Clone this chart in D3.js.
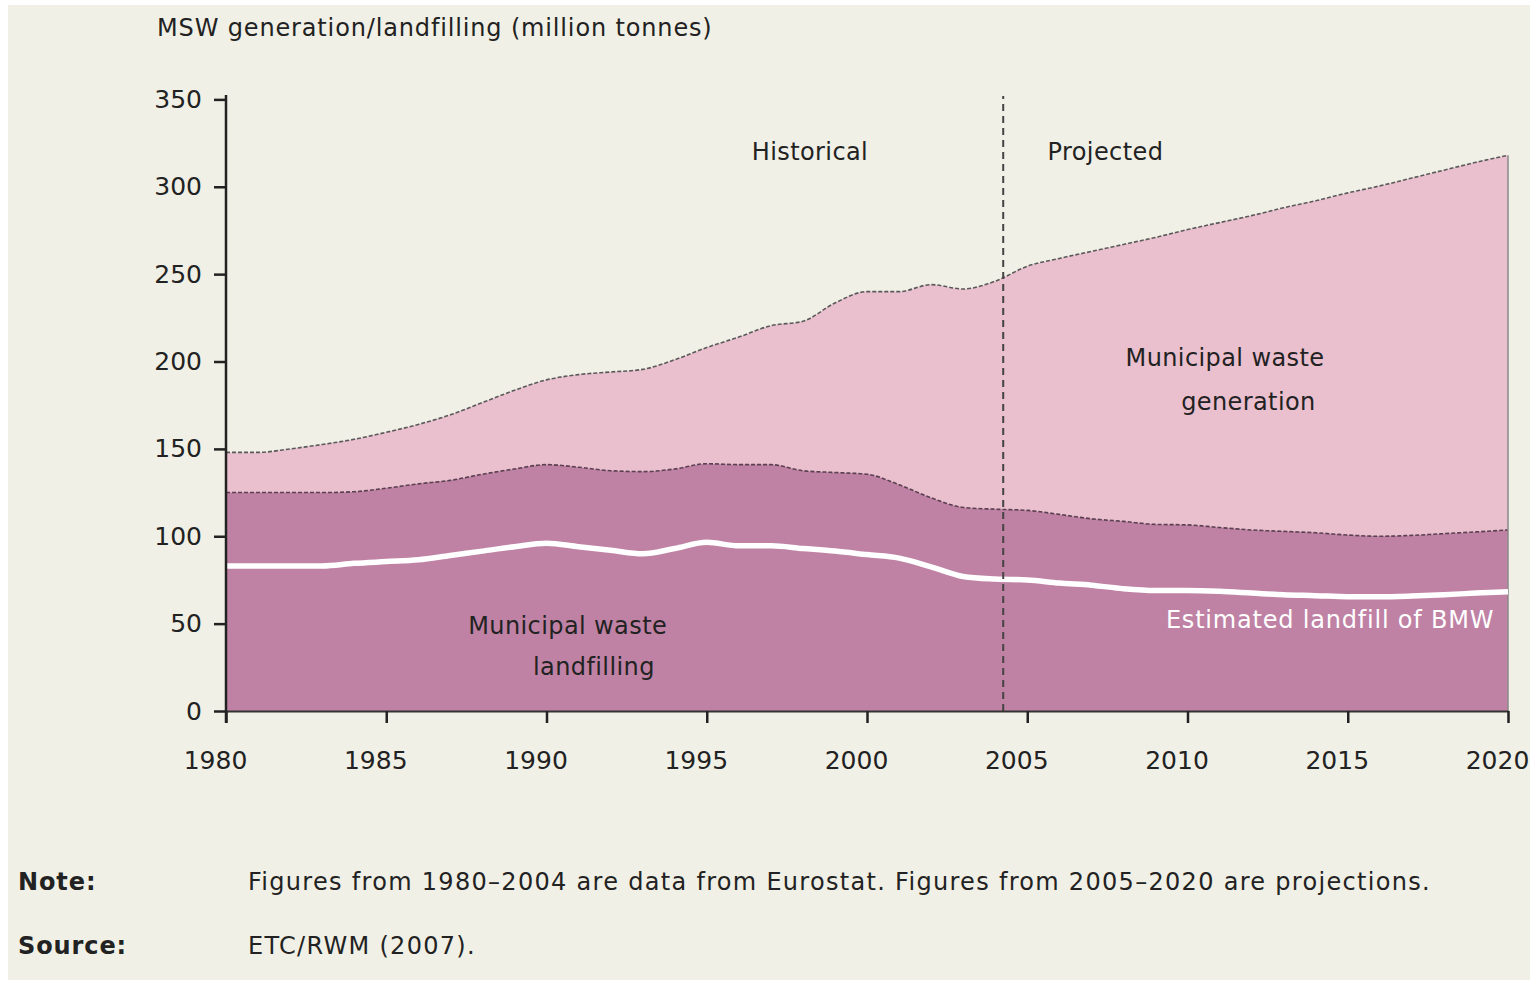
<!DOCTYPE html>
<html>
<head>
<meta charset="utf-8">
<script src="https://cdn.jsdelivr.net/npm/d3@7"></script>
<style>
  html, body { margin: 0; padding: 0; background: #ffffff; }
  svg { display: block; }
  text { font-family: "DejaVu Sans", Verdana, sans-serif; }
</style>
</head>
<body>
<svg id="chart" width="1535" height="983"></svg>
<script>
// ---- Data (million tonnes) ----
const years = d3.range(1980, 2021);
const generation = [148, 148, 150, 152.5, 155.5, 159.5, 164, 169.5, 176.5, 183.5,
  189.5, 192.5, 194, 195.5, 201, 208, 214, 220.5, 223, 233.5,
  240, 240, 244, 241.5, 246, 254.5, 259, 263, 267, 271,
  275.5, 279.5, 283.5, 288, 292, 296.5, 300.5, 305, 309.5, 314, 318];
const landfilling = [125, 125, 125, 125, 125.5, 127.5, 130, 132, 135.5, 138.5,
  141, 139.5, 137.5, 137, 138.5, 141.5, 141, 141, 137.5, 136.5,
  135.5, 129.5, 122, 116.5, 115.5, 114.8, 112.5, 110, 108.5, 106.8,
  106.5, 105, 103.6, 102.8, 102, 100.7, 100, 100.5, 101.5, 102.5, 103.6];
const bmwLandfill = [83, 83, 83, 83, 84.5, 85.5, 86.5, 89, 91.5, 94,
  96, 94, 92, 90, 93, 96.5, 94.5, 94.5, 93, 91.5,
  89.5, 87.5, 82.5, 77, 75.5, 75, 73.2, 72, 70, 69,
  69, 68.5, 67.5, 66.5, 66, 65.4, 65.4, 65.8, 66.5, 67.5, 68.3];
const xTicks = [1980, 1985, 1990, 1995, 2000, 2005, 2010, 2015, 2020];
const yTicks = [0, 50, 100, 150, 200, 250, 300, 350];
const dividerYear = 2004.25;

const titleText = "MSW generation/landfilling (million tonnes)";
const noteLabel = "Note:";
const noteText = "Figures from 1980\u20132004 are data from Eurostat. Figures from 2005\u20132020 are projections.";
const sourceLabel = "Source:";
const sourceText = "ETC/RWM (2007).";

// ---- Styles ----
const BG = "#f0f0e6";
const LIGHT = "#eabfce";
const DARK = "#bf82a4";
const INK = "#222222";

const svg = d3.select("#chart");
svg.append("rect").attr("x", 8).attr("y", 5).attr("width", 1522).attr("height", 975).attr("fill", BG);

const x = d3.scaleLinear().domain([1980, 2020]).range([226, 1508]);
const y = d3.scaleLinear().domain([0, 350]).range([711, 99.4]);

const rows = years.map((yr, i) => ({ yr, gen: generation[i], lf: landfilling[i], bmw: bmwLandfill[i] }));
const curve = d3.curveMonotoneX;

// Areas
svg.append("path").datum(rows)
  .attr("d", d3.area().curve(curve).x(d => x(d.yr)).y0(y(0)).y1(d => y(d.gen)))
  .attr("fill", LIGHT);
svg.append("path").datum(rows)
  .attr("d", d3.area().curve(curve).x(d => x(d.yr)).y0(y(0)).y1(d => y(d.lf)))
  .attr("fill", DARK);

// Boundary lines (thin dotted)
svg.append("path").datum(rows)
  .attr("d", d3.line().curve(curve).x(d => x(d.yr)).y(d => y(d.gen)))
  .attr("fill", "none").attr("stroke", "#5a5a5a").attr("stroke-width", 1.6).attr("stroke-dasharray", "4,2");
svg.append("path").datum(rows)
  .attr("d", d3.line().curve(curve).x(d => x(d.yr)).y(d => y(d.lf)))
  .attr("fill", "none").attr("stroke", "#5a4050").attr("stroke-width", 1.6).attr("stroke-dasharray", "4,2");
// right edge
svg.append("line")
  .attr("x1", x(2020)).attr("x2", x(2020)).attr("y1", y(0)).attr("y2", y(generation[generation.length - 1]))
  .attr("stroke", "#8a8a8a").attr("stroke-width", 1.5);

// BMW white line
svg.append("path").datum(rows)
  .attr("d", d3.line().curve(curve).x(d => x(d.yr)).y(d => y(d.bmw)))
  .attr("fill", "none").attr("stroke", "#ffffff").attr("stroke-width", 5.5);

// Divider
svg.append("line")
  .attr("x1", x(dividerYear)).attr("x2", x(dividerYear)).attr("y1", y(0)).attr("y2", y(352))
  .attr("stroke", "#444").attr("stroke-width", 2).attr("stroke-dasharray", "7,5");

// Axes
const xAxis = svg.append("g").attr("transform", `translate(0,${y(0)})`)
  .call(d3.axisBottom(x).tickValues(xTicks).tickFormat(d3.format("d")).tickSize(12).tickSizeOuter(0));
xAxis.select(".domain").attr("stroke", "#333").attr("stroke-width", 2);
xAxis.selectAll(".tick line").attr("stroke", INK).attr("stroke-width", 2.5);
xAxis.selectAll(".tick text").attr("font-size", 25).attr("fill", INK)
  .attr("dx", -11).attr("dy", 0).attr("y", 58).attr("font-family", "DejaVu Sans, Verdana, sans-serif");

const yAxis = svg.append("g").attr("transform", `translate(${x(1980)},0)`)
  .call(d3.axisLeft(y).tickValues(yTicks).tickSize(12).tickSizeOuter(0));
yAxis.select(".domain").remove();
yAxis.append("line").attr("x1", 0).attr("x2", 0).attr("y1", y(0) + 12).attr("y2", y(352.5))
  .attr("stroke", INK).attr("stroke-width", 2.5);
yAxis.selectAll(".tick line").attr("stroke", INK).attr("stroke-width", 2.5);
yAxis.selectAll(".tick text").attr("font-size", 25).attr("fill", INK).attr("x", -24)
  .attr("font-family", "DejaVu Sans, Verdana, sans-serif");

// Title
svg.append("text").attr("x", 157).attr("y", 36).attr("font-size", 24).attr("letter-spacing", 0.85)
  .attr("fill", INK).text(titleText);

// Annotations (data-anchored)
const ann = (yr, val, txt, color, ls) => svg.append("text")
  .attr("x", x(yr)).attr("y", y(val)).attr("text-anchor", "middle")
  .attr("font-size", 24).attr("letter-spacing", ls == null ? 0.4 : ls)
  .attr("fill", color || INK).text(txt);
ann(1998.22, 315.4, "Historical");
ann(2007.44, 315.4, "Projected");
ann(2011.17, 197.5, "Municipal waste");
ann(2011.9, 172.5, "generation");
ann(1990.66, 44, "Municipal waste");
ann(1991.48, 20.6, "landfilling");
ann(2014.45, 47.5, "Estimated landfill of BMW", "#ffffff", 0.8);

// Notes
svg.append("text").attr("x", 18).attr("y", 890).attr("font-size", 24).attr("font-weight", "bold")
  .attr("letter-spacing", 0.9).attr("fill", INK).text(noteLabel);
svg.append("text").attr("x", 248).attr("y", 890).attr("font-size", 24).attr("letter-spacing", 1.3)
  .attr("fill", INK).text(noteText);
svg.append("text").attr("x", 18).attr("y", 954).attr("font-size", 24).attr("font-weight", "bold")
  .attr("letter-spacing", 0.9).attr("fill", INK).text(sourceLabel);
svg.append("text").attr("x", 248).attr("y", 954).attr("font-size", 24).attr("letter-spacing", 1.3)
  .attr("fill", INK).text(sourceText);
</script>
</body>
</html>
